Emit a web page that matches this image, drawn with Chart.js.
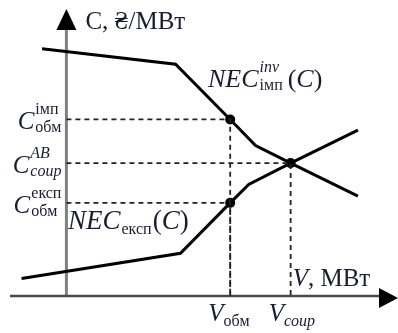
<!DOCTYPE html>
<html>
<head>
<meta charset="utf-8">
<script src="https://cdn.jsdelivr.net/npm/chart.js@4.4.1/dist/chart.umd.min.js"></script>
<style>
  body { margin: 0; background: #fff; }
  #wrap { width: 398px; height: 333px; }
</style>
</head>
<body>
<div id="wrap"><canvas id="canvas" width="398" height="333"></canvas></div>
<script>
// schematic values, origin = where the two axes cross
var impV = [-25, 112, 168, 194, 230, 299];   // NEC імп (inverse)
var impC = [255, 239, 182, 155, 137, 103];
var expV = [-46, 117, 168, 187, 230, 299];   // NEC експ
var expC = [18, 44, 96, 115, 137, 171];
// marked points: V_обм on both curves, then the crossing point
var markV = [168, 168, 230];
var markC = [182, 96, 137];
var cLabels = [['C', 'імп', 'обм'], ['C', 'експ', 'обм'], ['C', 'AB', 'coup']]; // same order as markC
var vTicks = [168, 230];
var vLabels = [['V', 'обм'], ['V', 'coup']];

var INK = '#1b1b33';
var SERIF = '"Liberation Serif", "DejaVu Serif", serif';

function pairs(xs, ys) {
  var out = [];
  for (var i = 0; i < xs.length; i++) out.push({x: xs[i], y: ys[i]});
  return out;
}

function isLatin(t) { return /[A-Za-z]/.test(t); }

function setFont(ctx, size, italic) {
  ctx.font = (italic ? 'italic ' : '') + size + 'px ' + SERIF;
}

function piece(ctx, txt, x, y, size, italic) {
  setFont(ctx, size, italic);
  ctx.fillText(txt, x, y);
  return ctx.measureText(txt).width;
}

function width(ctx, txt, size, italic) {
  setFont(ctx, size, italic);
  return ctx.measureText(txt).width;
}

// dashed guide lines, one per marked point
var guides = [];
for (var i = 0; i < markV.length; i++) {
  guides.push({
    data: [{x: 0, y: markC[i]}, {x: markV[i], y: markC[i]}, {x: markV[i], y: 0}],
    showLine: true, borderColor: '#222', borderWidth: 1.8, borderDash: [5, 4],
    pointRadius: 0, fill: false
  });
}

var axesPlugin = {
  id: 'axes',
  beforeDatasetsDraw: function(chart) {
    var ctx = chart.ctx, xs = chart.scales.x, ys = chart.scales.y;
    var ox = xs.getPixelForValue(0), oy = ys.getPixelForValue(0);
    ctx.save();
    // vertical axis (grey)
    ctx.strokeStyle = '#808080';
    ctx.lineWidth = 3;
    ctx.beginPath(); ctx.moveTo(ox, oy); ctx.lineTo(ox, 28); ctx.stroke();
    // horizontal axis
    ctx.strokeStyle = '#4a4a4a';
    ctx.lineWidth = 2.5;
    ctx.beginPath(); ctx.moveTo(10, oy); ctx.lineTo(382, oy); ctx.stroke();
    // arrow heads
    ctx.fillStyle = '#000';
    ctx.beginPath(); ctx.moveTo(ox, 9); ctx.lineTo(ox - 10, 30); ctx.lineTo(ox + 10, 30); ctx.closePath(); ctx.fill();
    ctx.beginPath(); ctx.moveTo(398, oy + 2); ctx.lineTo(379, oy - 8); ctx.lineTo(379, oy + 12); ctx.closePath(); ctx.fill();
    ctx.restore();
  }
};

var textPlugin = {
  id: 'texts',
  afterDatasetsDraw: function(chart) {
    var ctx = chart.ctx, xs = chart.scales.x, ys = chart.scales.y;
    var ox = xs.getPixelForValue(0), oy = ys.getPixelForValue(0);
    ctx.save();
    ctx.fillStyle = INK;
    ctx.textBaseline = 'alphabetic';
    ctx.textAlign = 'left';

    // axis titles
    var x = ox + 19;
    x += piece(ctx, 'C, ₴/МВт', x, 29, 25, false);

    x = xs.getPixelForValue(vTicks[1]) + 2;
    x += piece(ctx, 'V', x, 286, 25, true);
    piece(ctx, ', МВт', x, 286, 25, false);

    // levels on the C axis
    for (var i = 0; i < cLabels.length; i++) {
      var lab = cLabels[i];
      var py = ys.getPixelForValue(markC[i]);
      var w0 = width(ctx, lab[0], 25, true);
      var ws = Math.max(width(ctx, lab[1], 16, isLatin(lab[1])), width(ctx, lab[2], 16, isLatin(lab[2])));
      var sx = ox - 6 - (w0 + ws);
      piece(ctx, lab[0], sx, py + 10, 25, true);
      piece(ctx, lab[1], sx + w0 + 1, py - 5, 16, isLatin(lab[1]));
      piece(ctx, lab[2], sx + w0 + 1, py + 13, 16, isLatin(lab[2]));
    }

    // values on the V axis
    for (var j = 0; j < vLabels.length; j++) {
      var vx = xs.getPixelForValue(vTicks[j]) - 22;
      var w = piece(ctx, vLabels[j][0], vx, oy + 25, 25, true);
      piece(ctx, vLabels[j][1], vx + w, oy + 30, 16, isLatin(vLabels[j][1]));
    }

    // curve names
    x = 208;
    x += piece(ctx, 'NEC', x, 87, 26, true);
    var a = piece(ctx, 'inv', x + 1, 72, 16, true);
    var b = piece(ctx, 'імп', x + 1, 90, 16, false);
    x += Math.max(a, b) + 6;
    x += piece(ctx, '(', x, 87, 26, false);
    x += piece(ctx, 'C', x, 87, 26, true);
    piece(ctx, ')', x, 87, 26, false);

    x = 68;
    x += piece(ctx, 'NEC', x, 229, 27, true);
    x += piece(ctx, 'експ', x + 1, 234, 16, false) + 2;
    x += piece(ctx, '(', x, 229, 27, false);
    x += piece(ctx, 'C', x, 229, 27, true);
    piece(ctx, ')', x, 229, 27, false);

    ctx.restore();
  }
};

window.onload = function() {
  var ctx = document.getElementById('canvas').getContext('2d');
  var datasets = guides.concat([
    {data: pairs(impV, impC), showLine: true, borderColor: '#000', borderWidth: 3, pointRadius: 0, fill: false},
    {data: pairs(expV, expC), showLine: true, borderColor: '#000', borderWidth: 3, pointRadius: 0, fill: false},
    {data: pairs(markV, markC), showLine: false, pointRadius: 5, pointBackgroundColor: '#000', pointBorderWidth: 0}
  ]);
  window.myChart = new Chart(ctx, {
    type: 'scatter',
    data: {datasets: datasets},
    options: {
      responsive: false,
      animation: false,
      layout: {padding: 0},
      plugins: {legend: {display: false}, tooltip: {enabled: false}},
      scales: {
        x: {type: 'linear', display: false, min: -63, max: 335},
        y: {type: 'linear', display: false, min: -33, max: 300}
      }
    },
    plugins: [axesPlugin, textPlugin]
  });
};
</script>
</body>
</html>
